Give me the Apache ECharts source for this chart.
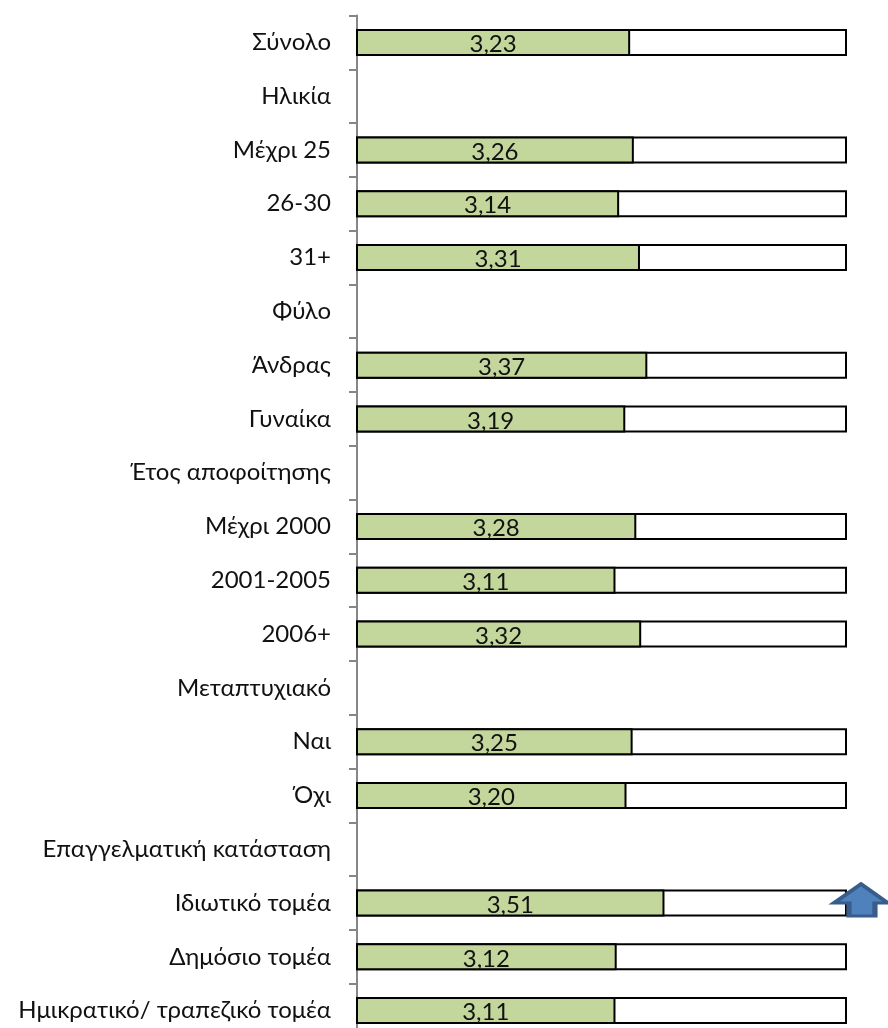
<!DOCTYPE html>
<html><head><meta charset="utf-8">
<style>html,body{margin:0;padding:0;background:#fff}#c{width:888px;height:1028px}</style>
<script src="https://cdn.jsdelivr.net/npm/echarts@6/dist/echarts.min.js"></script>
</head><body><div id="c"></div>
<script>
const categories = ['Σύνολο','Ηλικία','Μέχρι 25','26-30','31+','Φύλο','Άνδρας','Γυναίκα','Έτος αποφοίτησης','Μέχρι 2000','2001-2005','2006+','Μεταπτυχιακό','Ναι','Όχι','Επαγγελματική κατάσταση','Ιδιωτικό τομέα','Δημόσιο τομέα','Ημικρατικό/ τραπεζικό τομέα'];
const scores = [3.23,null,3.26,3.14,3.31,null,3.37,3.19,null,3.28,3.11,3.32,null,3.25,3.20,null,3.51,3.12,3.11];
const scaleMin = 1, scaleEnd = 5, axisMax = 5.5;
const arrowCategory = 'Ιδιωτικό τομέα', arrowValue = 5.114;
const frame = scores.map(v => v === null ? null : scaleEnd);
const FONT = 'Lato, Carlito, "Noto Sans", sans-serif';
const arrowPath = 'path://M27,0 L54,19 L41,19 L41,32 L15,32 L15,19 L0,19 Z';
const chart = echarts.init(document.getElementById('c'), null, {renderer:'canvas'});
chart.setOption({
  animation:false,
  backgroundColor:'#fff',
  grid:{left:357,top:15.5,width:551.25,height:1022,containLabel:false,outerBoundsMode:'none'},
  xAxis:{type:'value',min:scaleMin,max:axisMax,show:false,splitLine:{show:false}},
  yAxis:{type:'category',inverse:true,data:categories,
    axisLine:{show:true,lineStyle:{color:'#868686',width:2}},
    axisTick:{show:true,length:8,alignWithLabel:false,lineStyle:{color:'#868686',width:2}},
    axisLabel:{interval:0,margin:26,fontFamily:FONT,fontSize:24,color:'#111'}},
  series:[
    {type:'bar',data:frame,barWidth:27,barGap:'-100%',silent:true,
     itemStyle:{color:'#fff',borderColor:'#000',borderWidth:2},
     markPoint:{silent:true,symbol:arrowPath,symbolSize:[54,32],symbolOffset:[0,-3],
       itemStyle:{color:'#4F81BD',borderColor:'#385D8A',borderWidth:4},
       label:{show:false},
       data:[{coord:[arrowValue,arrowCategory]}]}},
    {type:'bar',data:scores,barWidth:27,barGap:'-100%',
     itemStyle:{color:'#C3D69B',borderColor:'#000',borderWidth:2},
     label:{show:true,position:'inside',offset:[0,2],fontFamily:FONT,fontSize:24,color:'#111',
       formatter:p=>p.value.toFixed(2).replace('.',',')}}
  ]
});
</script></body></html>
